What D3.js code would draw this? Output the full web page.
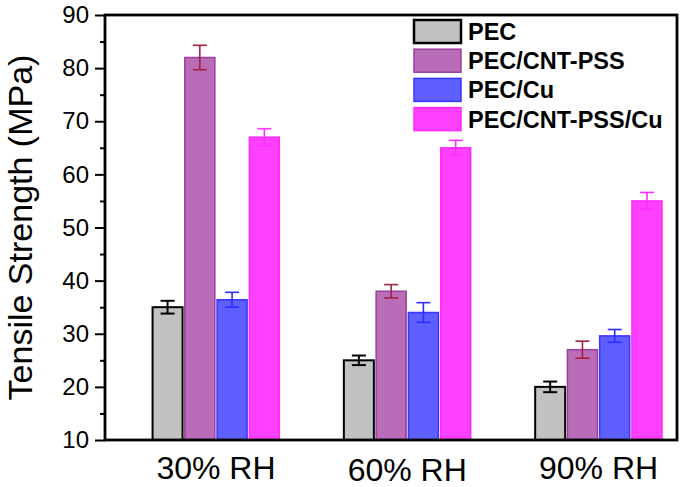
<!DOCTYPE html>
<html>
<head>
<meta charset="utf-8">
<script src="https://cdn.jsdelivr.net/npm/d3@7"></script>
<style>
  html, body { margin: 0; padding: 0; background: #fff; }
  svg { display: block; font-family: "Liberation Sans", Arial, sans-serif; }
</style>
</head>
<body>
<svg id="chart" width="685" height="487"></svg>
<script>
// ---- data ----
const categories = ["30% RH", "60% RH", "90% RH"];
const seriesNames = ["PEC", "PEC/CNT-PSS", "PEC/Cu", "PEC/CNT-PSS/Cu"];
const valPEC        = [35.0, 25.0, 20.0];
const valCNTPSS     = [82.0, 38.0, 27.0];
const valCu         = [36.4, 34.0, 29.6];
const valCNTPSSCu   = [67.0, 65.0, 55.0];
const errPEC        = [1.2, 0.9, 1.0];
const errCNTPSS     = [2.3, 1.25, 1.6];
const errCu         = [1.4, 1.85, 1.2];
const errCNTPSSCu   = [1.6, 1.4, 1.6];
const yTicks = [10, 20, 30, 40, 50, 60, 70, 80, 90];
const yMinorTicks = [15, 25, 35, 45, 55, 65, 75, 85];

const values = [valPEC, valCNTPSS, valCu, valCNTPSSCu];
const errors = [errPEC, errCNTPSS, errCu, errCNTPSSCu];

// ---- styles ----
const fills   = ["#c2c2c2", "#b96db9", "#5f5fff", "#ff40ff"];
const strokes = ["#000000", "#9a3f9a", "#3636ff", "#ff28ff"];
const strokeW = [2, 1.5, 1.5, 1.5];
const errCol  = ["#000000", "#a3223f", "#2d2dff", "#ff2cff"];

const svg = d3.select("#chart");
const mLeft = 105, mRight = 677, mTop = 15, mBottom = 440;

const y = d3.scaleLinear().domain([10, 90]).range([mBottom, mTop]);
const x = d3.scaleLinear().domain([-0.58, 2.41]).range([mLeft, mRight]);
const xs = d3.scaleBand().domain(seriesNames).range([-63.4, 63.4]).paddingInner(0.07);

// bars
const g = svg.append("g");
categories.forEach((c, ci) => {
  seriesNames.forEach((s, si) => {
    const v = values[si][ci];
    const x0 = x(ci) + xs(s);
    g.append("rect")
      .attr("x", x0)
      .attr("y", y(v))
      .attr("width", xs.bandwidth())
      .attr("height", y(10) - y(v))
      .attr("fill", fills[si])
      .attr("stroke", strokes[si])
      .attr("stroke-width", strokeW[si]);
    const e = errors[si][ci];
    const cx = x0 + xs.bandwidth() / 2;
    const ew = si === 0 ? 2 : 1.6;
    const capHalf = 7;
    g.append("line").attr("x1", cx).attr("x2", cx)
      .attr("y1", y(v + e)).attr("y2", y(v - e))
      .attr("stroke", errCol[si]).attr("stroke-width", ew);
    [v + e, v - e].forEach(t => {
      g.append("line").attr("x1", cx - capHalf).attr("x2", cx + capHalf)
        .attr("y1", y(t)).attr("y2", y(t))
        .attr("stroke", errCol[si]).attr("stroke-width", ew);
    });
  });
});

// y axis
const yAxis = d3.axisLeft(y).tickValues(yTicks).tickSize(10).tickPadding(6)
  .tickFormat(d3.format("d"));
const ya = svg.append("g").attr("transform", `translate(${mLeft},0)`).call(yAxis);
ya.select(".domain").remove();
ya.selectAll(".tick line").attr("stroke", "#000").attr("stroke-width", 2);
ya.selectAll(".tick text").attr("font-size", 24).attr("fill", "#000")
  .attr("font-family", "'Liberation Sans', Arial, sans-serif");
const yMinor = d3.axisLeft(y).tickValues(yMinorTicks).tickSize(5).tickFormat("");
const ym = svg.append("g").attr("transform", `translate(${mLeft},0)`).call(yMinor);
ym.select(".domain").remove();
ym.selectAll(".tick line").attr("stroke", "#000").attr("stroke-width", 2);

// x labels
categories.forEach((c, ci) => {
  svg.append("text")
    .attr("x", x(ci))
    .attr("y", ci === 1 ? 480.5 : 478.5)
    .attr("text-anchor", "middle")
    .attr("font-size", 32)
    .attr("fill", "#000")
    .text(c);
});

// frame
svg.append("rect")
  .attr("x", mLeft).attr("y", mTop)
  .attr("width", mRight - mLeft).attr("height", mBottom - mTop)
  .attr("fill", "none").attr("stroke", "#000").attr("stroke-width", 2.8);

// y title
svg.append("text")
  .attr("transform", `translate(32,${(mTop + mBottom) / 2}) rotate(-90)`)
  .attr("text-anchor", "middle")
  .attr("font-size", 34)
  .attr("fill", "#000")
  .text("Tensile Strength (MPa)");

// legend
const lg = svg.append("g");
seriesNames.forEach((s, si) => {
  const cy = 31.5 + si * 29.2;
  lg.append("rect")
    .attr("x", 414).attr("y", cy - 11.5)
    .attr("width", 47).attr("height", 23)
    .attr("fill", fills[si])
    .attr("stroke", strokes[si])
    .attr("stroke-width", si === 0 ? 2.5 : 1.5);
  lg.append("text")
    .attr("x", 468).attr("y", cy + 8.5)
    .attr("font-size", 23.5)
    .attr("font-weight", "bold")
    .attr("fill", "#000")
    .text(s);
});
</script>
</body>
</html>
